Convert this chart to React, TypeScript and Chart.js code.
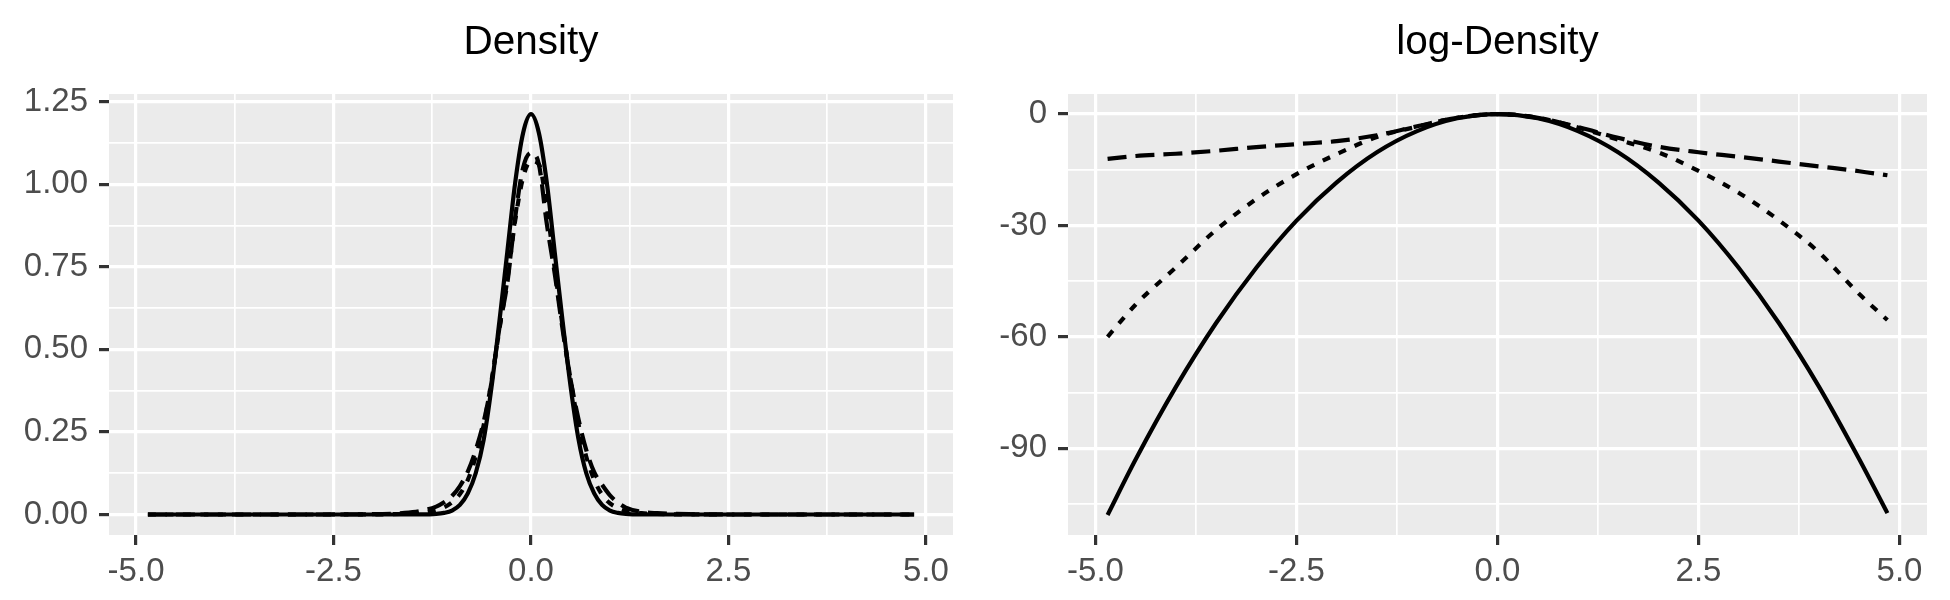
import React, { useEffect, useRef } from "react";
import { Chart, registerables } from "chart.js";

Chart.register(...registerables);

// ---------- Data ----------
const densX = [-4.85, -3, -2, -1.6, -1.4, -1.2, -1.1, -1.0, -0.9, -0.8, -0.7, -0.6, -0.5, -0.4, -0.3, -0.2, -0.1, 0,
  0.1, 0.2, 0.3, 0.4, 0.5, 0.6, 0.7, 0.8, 0.9, 1.0, 1.1, 1.2, 1.4, 1.6, 2, 3, 4.85];
const densSolid = [0, 0, 0, 0, 0.0002, 0.002, 0.005, 0.012, 0.029, 0.064, 0.125, 0.225, 0.385, 0.585, 0.795, 1.005, 1.155, 1.212,
  1.155, 1.005, 0.795, 0.585, 0.39, 0.23, 0.125, 0.064, 0.029, 0.012, 0.005, 0.002, 0.0002, 0, 0, 0, 0];
const densDashed = [0, 0, 0.001, 0.005, 0.011, 0.024, 0.037, 0.056, 0.086, 0.13, 0.195, 0.28, 0.4, 0.565, 0.7, 0.9, 1.05, 1.095,
  1.06, 0.88, 0.73, 0.56, 0.41, 0.29, 0.195, 0.128, 0.09, 0.058, 0.036, 0.021, 0.008, 0.004, 0.001, 0, 0];
const densDotted = [0, 0, 0.0005, 0.002, 0.005, 0.013, 0.022, 0.037, 0.062, 0.105, 0.175, 0.27, 0.405, 0.56, 0.71, 0.89, 1.02, 1.07,
  1.06, 0.93, 0.745, 0.57, 0.41, 0.275, 0.175, 0.105, 0.06, 0.034, 0.02, 0.011, 0.004, 0.0015, 0.0003, 0, 0];

const logX = [-4.85, -4.5, -4, -3.5, -3, -2.5, -2, -1.5, -1, -0.5, 0, 0.5, 1, 1.5, 2, 2.5, 3, 3.5, 4, 4.5, 4.85];
const logSolid = [-108, -93, -73.5, -56.3, -41.4, -28.7, -18.4, -10.3, -4.6, -1.15, 0, -1.15, -4.6, -10.3, -18.4, -28.7, -41.4, -56.3, -73.5, -93, -107.5];
const logDashed = [-12.1, -11.3, -10.7, -9.9, -8.9, -8.1, -7.3, -5.7, -3.3, -1.0, 0, -1.0, -3.5, -6.4, -8.8, -10.3, -11.5, -12.8, -14.1, -15.4, -16.5];
const logDotted = [-60, -51.3, -41.3, -31.2, -22.9, -16.2, -10.8, -6.2, -3.4, -1.0, 0, -1.0, -3.6, -6.9, -10.3, -15.3, -21.2, -28.6, -37.3, -48.5, -55.5];

const xTicks = [-5, -3.75, -2.5, -1.25, 0, 1.25, 2.5, 3.75, 5];
const densYTicks = [0, 0.125, 0.25, 0.375, 0.5, 0.625, 0.75, 0.875, 1, 1.125, 1.25];
const logYTicks = [-105, -90, -75, -60, -45, -30, -15, 0];

const titles = ["Density", "log-Density"];

// ---------- Styling ----------
const FONT = '"Liberation Sans", Arial, Helvetica, sans-serif';
const TICK_TEXT = "#4D4D4D";
const TICK_MARK = "#333333";
const PANEL_BG = "#EBEBEB";
const MAJOR_W = 3.2;
const MINOR_W = 1.7;

function isMultiple(v: number, step: number) {
  const r = v / step;
  return Math.abs(r - Math.round(r)) < 1e-6;
}

const bgPlugin = {
  id: "panelBg",
  beforeDraw(chart: any) {
    const { ctx, chartArea } = chart;
    ctx.save();
    ctx.fillStyle = PANEL_BG;
    ctx.fillRect(chartArea.left, chartArea.top, chartArea.right - chartArea.left, chartArea.bottom - chartArea.top);
    ctx.restore();
  },
};

function makeTitlePlugin(text: string) {
  return {
    id: "panelTitle",
    afterDraw(chart: any) {
      const { ctx, chartArea } = chart;
      ctx.save();
      ctx.fillStyle = "#000000";
      ctx.font = `40.5px ${FONT}`;
      ctx.textAlign = "center";
      ctx.textBaseline = "alphabetic";
      ctx.fillText(text, (chartArea.left + chartArea.right) / 2, 54);
      ctx.restore();
    },
  };
}

function pts(xs: number[], ys: number[]) {
  return xs.map((x, i) => ({ x, y: ys[i] }));
}

function lineDs(data: any[], dash: number[]) {
  return {
    data,
    borderColor: "#000000",
    borderWidth: 4.2,
    borderDash: dash,
    borderCapStyle: "butt",
    pointRadius: 0,
    fill: false,
    cubicInterpolationMode: "monotone",
  };
}

function buildConfig(opts: {
  xs: number[];
  solid: number[];
  dashed: number[];
  dotted: number[];
  yMin: number;
  yMax: number;
  yTicks: number[];
  yMajorStep: number;
  yFmt: (v: number) => string;
  yAxisWidth: number;
  padRight: number;
  title: string;
}) {
  const majorX = (v: number) => isMultiple(v, 2.5);
  const majorY = (v: number) => isMultiple(v, opts.yMajorStep);
  return {
    type: "line",
    data: {
      datasets: [
        lineDs(pts(opts.xs, opts.dashed), [19, 9]),
        lineDs(pts(opts.xs, opts.dotted), [8, 9.5]),
        lineDs(pts(opts.xs, opts.solid), []),
      ],
    },
    options: {
      animation: false,
      responsive: false,
      maintainAspectRatio: false,
      devicePixelRatio: 1,
      layout: { padding: { left: 0, right: opts.padRight, top: 94, bottom: 0 } },
      plugins: { legend: { display: false }, tooltip: { enabled: false }, title: { display: false } },
      scales: {
        x: {
          type: "linear",
          min: -5.3425,
          max: 5.3425,
          afterBuildTicks: (s: any) => {
            s.ticks = xTicks.map((v) => ({ value: v }));
          },
          afterFit: (s: any) => {
            s.height = 65;
          },
          ticks: {
            autoSkip: false,
            maxRotation: 0,
            padding: 7,
            color: TICK_TEXT,
            font: { family: FONT, size: 33 },
            callback: (v: number) => (majorX(v) ? v.toFixed(1) : ""),
          },
          grid: {
            color: "#FFFFFF",
            lineWidth: (c: any) => (c.tick && majorX(c.tick.value) ? MAJOR_W : MINOR_W),
            tickColor: (c: any) => (c.tick && majorX(c.tick.value) ? TICK_MARK : "rgba(0,0,0,0)"),
            tickWidth: MAJOR_W,
            tickLength: 10,
            drawTicks: true,
          },
          border: { display: false },
        },
        y: {
          type: "linear",
          min: opts.yMin,
          max: opts.yMax,
          afterBuildTicks: (s: any) => {
            s.ticks = opts.yTicks.map((v) => ({ value: v }));
          },
          afterFit: (s: any) => {
            s.width = opts.yAxisWidth;
          },
          ticks: {
            autoSkip: false,
            padding: 11,
            color: TICK_TEXT,
            font: { family: FONT, size: 33 },
            callback: (v: number) => (majorY(v) ? opts.yFmt(v) : ""),
          },
          grid: {
            color: "#FFFFFF",
            lineWidth: (c: any) => (c.tick && majorY(c.tick.value) ? MAJOR_W : MINOR_W),
            tickColor: (c: any) => (c.tick && majorY(c.tick.value) ? TICK_MARK : "rgba(0,0,0,0)"),
            tickWidth: MAJOR_W,
            tickLength: 10,
            drawTicks: true,
          },
          border: { display: false },
        },
      },
    },
    plugins: [bgPlugin, makeTitlePlugin(opts.title)],
  };
}

export default function App() {
  const leftRef = useRef<HTMLCanvasElement | null>(null);
  const rightRef = useRef<HTMLCanvasElement | null>(null);

  useEffect(() => {
    document.body.style.margin = "0";
    Chart.defaults.font.family = FONT;
    const charts: Chart[] = [];
    if (leftRef.current) {
      charts.push(
        new Chart(
          leftRef.current,
          buildConfig({
            xs: densX,
            solid: densSolid,
            dashed: densDashed,
            dotted: densDotted,
            yMin: -0.062,
            yMax: 1.273,
            yTicks: densYTicks,
            yMajorStep: 0.25,
            yFmt: (v) => v.toFixed(2),
            yAxisWidth: 109,
            padRight: 22,
            title: titles[0],
          }) as any
        )
      );
    }
    if (rightRef.current) {
      charts.push(
        new Chart(
          rightRef.current,
          buildConfig({
            xs: logX,
            solid: logSolid,
            dashed: logDashed,
            dotted: logDotted,
            yMin: -113.4,
            yMax: 5.4,
            yTicks: logYTicks,
            yMajorStep: 30,
            yFmt: (v) => String(v),
            yAxisWidth: 93,
            padRight: 23,
            title: titles[1],
          }) as any
        )
      );
    }
    return () => {
      charts.forEach((c) => c.destroy());
    };
  }, []);

  return (
    <div style={{ position: "absolute", left: 0, top: 0, width: 1950, height: 600, background: "#FFFFFF" }}>
      <canvas ref={leftRef} width={975} height={600} style={{ position: "absolute", left: 0, top: 0, width: 975, height: 600 }} />
      <canvas ref={rightRef} width={975} height={600} style={{ position: "absolute", left: 975, top: 0, width: 975, height: 600 }} />
    </div>
  );
}
